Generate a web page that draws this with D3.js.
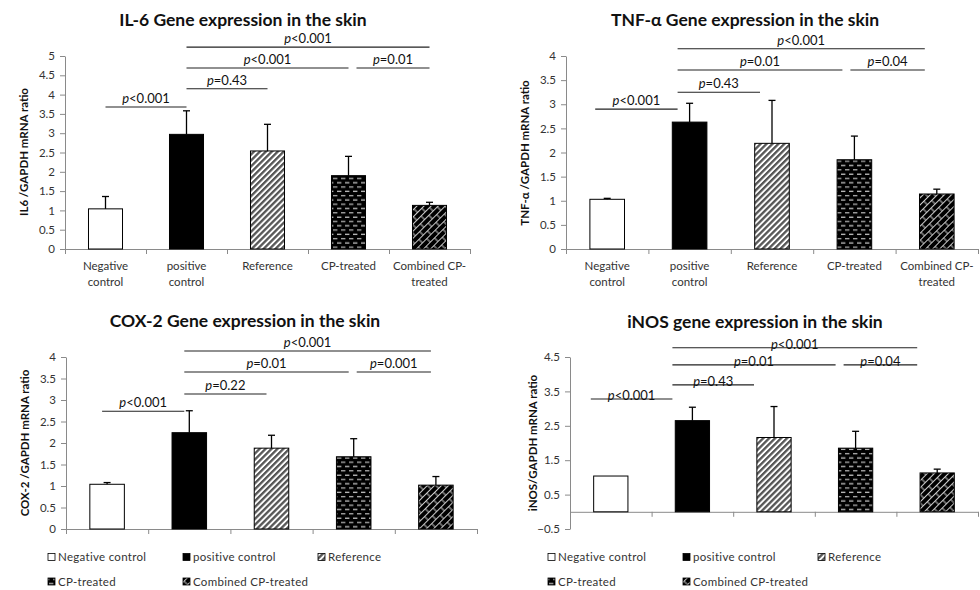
<!DOCTYPE html>
<html>
<head>
<meta charset="utf-8">
<script src="https://cdn.jsdelivr.net/npm/d3@7"></script>
<style>
  body { margin: 0; background: #fff; }
  svg text { font-family: Lato, "Open Sans", sans-serif; }
</style>
</head>
<body>
<div id="wrapper"></div>
<script>
// Data
const categories = ["Negative control", "positive control", "Reference", "CP-treated", "Combined CP-treated"];
const categoryLabelLines = [["Negative", "control"], ["positive", "control"], ["Reference"], ["CP-treated"], ["Combined CP-", "treated"]];

const il6Means = [1.04, 2.97, 2.54, 1.90, 1.13];
const il6Errors = [0.32, 0.61, 0.69, 0.50, 0.08];
const il6Ticks = [0, 0.5, 1, 1.5, 2, 2.5, 3, 3.5, 4, 4.5, 5];
const il6Comparisons = [
    { from: 0, to: 1, level: 3.68, text: "<0.001" },
    { from: 1, to: 2, level: 4.15, text: "=0.43" },
    { from: 1, to: 3, level: 4.69, text: "<0.001" },
    { from: 3, to: 4, level: 4.69, text: "=0.01" },
    { from: 1, to: 4, level: 5.23, text: "<0.001" }
];

const tnfMeans = [1.03, 2.63, 2.19, 1.85, 1.14];
const tnfErrors = [0.02, 0.39, 0.89, 0.49, 0.10];
const tnfTicks = [0, 0.5, 1, 1.5, 2, 2.5, 3, 3.5, 4];
const tnfComparisons = [
    { from: 0, to: 1, level: 2.90, text: "<0.001" },
    { from: 1, to: 2, level: 3.25, text: "=0.43" },
    { from: 1, to: 3, level: 3.71, text: "=0.01" },
    { from: 3, to: 4, level: 3.71, text: "=0.04" },
    { from: 1, to: 4, level: 4.15, text: "<0.001" }
];

const cox2Means = [1.04, 2.24, 1.88, 1.68, 1.02];
const cox2Errors = [0.04, 0.51, 0.30, 0.42, 0.20];
const cox2Ticks = [0, 0.5, 1, 1.5, 2, 2.5, 3, 3.5, 4];
const cox2Comparisons = [
    { from: 0, to: 1, level: 2.74, text: "<0.001" },
    { from: 1, to: 2, level: 3.14, text: "=0.22" },
    { from: 1, to: 3, level: 3.65, text: "=0.01" },
    { from: 3, to: 4, level: 3.65, text: "=0.001" },
    { from: 1, to: 4, level: 4.14, text: "<0.001" }
];

const inosMeans = [1.04, 2.65, 2.16, 1.85, 1.13];
const inosErrors = [0, 0.39, 0.90, 0.49, 0.11];
const inosTicks = [-0.5, 0.5, 1.5, 2.5, 3.5, 4.5];
const inosComparisons = [
    { from: 0, to: 1, level: 3.28, text: "<0.001" },
    { from: 1, to: 2, level: 3.69, text: "=0.43" },
    { from: 1, to: 3, level: 4.27, text: "=0.01" },
    { from: 3, to: 4, level: 4.27, text: "=0.04" },
    { from: 1, to: 4, level: 4.77, text: "<0.001" }
];

const fills = ["#ffffff", "#000000", "url(#pat-ref)", "url(#pat-cp)", "url(#pat-comb)"];

function drawChart() {
    const width = 980, height = 590;

    const svg = d3.select("#wrapper")
        .append("svg")
        .attr("width", width)
        .attr("height", height);

    // Patterns for the hatched bars
    const defs = svg.append("defs");

    const ref = defs.append("pattern")
        .attr("id", "pat-ref")
        .attr("patternUnits", "userSpaceOnUse")
        .attr("width", 4.2).attr("height", 4.2)
        .attr("patternTransform", "rotate(45)");
    ref.append("rect").attr("width", 4.2).attr("height", 4.2).attr("fill", "#fff");
    ref.append("rect").attr("width", 2.3).attr("height", 4.2).attr("fill", "#555");

    const cp = defs.append("pattern")
        .attr("id", "pat-cp")
        .attr("patternUnits", "userSpaceOnUse")
        .attr("width", 8).attr("height", 8.6);
    cp.append("rect").attr("width", 8).attr("height", 8.6).attr("fill", "#000");
    cp.append("rect").attr("x", 1).attr("y", 1.6).attr("width", 4.4).attr("height", 1.1).attr("fill", "#e8e8e8");
    cp.append("rect").attr("x", 5).attr("y", 5.9).attr("width", 4.4).attr("height", 1.1).attr("fill", "#d0d0d0");
    cp.append("rect").attr("x", -3).attr("y", 5.9).attr("width", 4.4).attr("height", 1.1).attr("fill", "#d0d0d0");

    const comb = defs.append("pattern")
        .attr("id", "pat-comb")
        .attr("patternUnits", "userSpaceOnUse")
        .attr("width", 12).attr("height", 10)
        .attr("patternTransform", "rotate(-45)");
    comb.append("rect").attr("width", 12).attr("height", 10).attr("fill", "#000");
    comb.append("path")
        .attr("d", "M0,0.5H12 M0,5.5H12 M1,0.5V5.5 M7,5.5V10.5")
        .attr("stroke", "#e0e0e0")
        .attr("stroke-width", 0.9)
        .attr("fill", "none");

    const panels = [
        {
            title: "IL-6 Gene expression in the skin", yTitle: "IL6 /GAPDH mRNA ratio",
            means: il6Means, errors: il6Errors, ticks: il6Ticks, domain: [0, 5], comparisons: il6Comparisons,
            left: 65, right: 470, top: 56, bottom: 249, titleX: 243, titleY: 26, yTitleX: 24, yTitleY: 152,
            showLabels: true, shift: 0, labelDy: -4
        },
        {
            title: "TNF-\u03b1  Gene expression in the skin", yTitle: "TNF-\u03b1 /GAPDH  mRNA ratio",
            means: tnfMeans, errors: tnfErrors, ticks: tnfTicks, domain: [0, 4], comparisons: tnfComparisons,
            left: 566, right: 978, top: 56, bottom: 249, titleX: 745, titleY: 26, yTitleX: 525, yTitleY: 153,
            showLabels: true, shift: -12, labelDy: -4
        },
        {
            title: "COX-2 Gene expression in the skin", yTitle: "COX-2  /GAPDH  mRNA ratio",
            means: cox2Means, errors: cox2Errors, ticks: cox2Ticks, domain: [0, 4], comparisons: cox2Comparisons,
            left: 66, right: 477, top: 357, bottom: 529, titleX: 245, titleY: 327, yTitleX: 25, yTitleY: 443,
            showLabels: false, shift: -5, labelDy: -4
        },
        {
            title: "iNOS gene expression in the skin", yTitle: "iNOS/GAPDH  mRNA ratio",
            means: inosMeans, errors: inosErrors, ticks: inosTicks, domain: [-0.5, 4.5], comparisons: inosComparisons,
            left: 570, right: 978, top: 357, bottom: 529, titleX: 755, titleY: 328, yTitleX: 533, yTitleY: 443,
            showLabels: false, shift: -20, labelDy: 1
        }
    ];

    panels.forEach(p => drawPanel(svg, p));

    // Legends
    drawLegend(svg, 48, 557);
    drawLegend(svg, 548, 557);
}

function drawPanel(svg, p) {
    const g = svg.append("g");

    const yScale = d3.scaleLinear()
        .domain(p.domain)
        .range([p.bottom, p.top]);

    const xBand = d3.scaleBand()
        .domain(d3.range(categories.length))
        .range([p.left, p.right])
        .paddingInner(0.58)
        .paddingOuter(0.29);

    const xEdge = d3.scaleLinear()
        .domain([0, categories.length])
        .range([p.left, p.right]);

    const center = i => xBand(i) + xBand.bandwidth() / 2;

    // Title
    g.append("text")
        .attr("x", p.titleX)
        .attr("y", p.titleY)
        .attr("text-anchor", "middle")
        .attr("font-weight", "bold")
        .attr("font-size", 17.5)
        .attr("fill", "#111")
        .text(p.title);

    // Y axis
    const yAxis = g.append("g")
        .attr("transform", `translate(${p.left},0)`)
        .call(d3.axisLeft(yScale)
            .tickValues(p.ticks)
            .tickSize(5)
            .tickSizeOuter(0)
            .tickPadding(5)
            .tickFormat(d3.format("")));
    yAxis.select(".domain").attr("stroke", "#8a8a8a");
    yAxis.selectAll(".tick line").attr("stroke", "#8a8a8a");
    yAxis.selectAll(".tick text")
        .attr("font-size", 11.5)
        .attr("fill", "#333")
        .style("font-family", "Lato, sans-serif");

    g.append("text")
        .attr("transform", `translate(${p.yTitleX},${p.yTitleY}) rotate(-90)`)
        .attr("text-anchor", "middle")
        .attr("dy", "0.35em")
        .attr("font-weight", "bold")
        .attr("font-size", 11.5)
        .attr("fill", "#111")
        .text(p.yTitle);

    // X axis (category boundaries)
    const baseY = yScale(Math.max(0, p.domain[0]));
    const xAxis = g.append("g")
        .attr("transform", `translate(0,${baseY})`)
        .call(d3.axisBottom(xEdge)
            .tickValues(d3.range(categories.length + 1))
            .tickSize(5)
            .tickSizeOuter(0)
            .tickFormat(""));
    xAxis.select(".domain").attr("stroke", "#8a8a8a");
    xAxis.selectAll(".tick line").attr("stroke", "#8a8a8a");

    if (p.showLabels) {
        const labels = g.selectAll(".xlabel")
            .data(categoryLabelLines)
            .enter().append("text")
            .attr("class", "xlabel")
            .attr("text-anchor", "middle")
            .attr("font-size", 11.5)
            .attr("fill", "#333");
        labels.selectAll("tspan")
            .data((d, i) => d.map(line => ({ line, i })))
            .enter().append("tspan")
            .attr("x", d => center(d.i))
            .attr("y", (d, j) => baseY + 21 + j * 16)
            .text(d => d.line);
    }

    // Bars
    g.selectAll(".bar")
        .data(p.means)
        .enter().append("rect")
        .attr("class", "bar")
        .attr("x", (d, i) => xBand(i))
        .attr("width", xBand.bandwidth())
        .attr("y", d => yScale(d))
        .attr("height", d => yScale(0) - yScale(d))
        .attr("fill", (d, i) => fills[i])
        .attr("stroke", "#000")
        .attr("stroke-width", 1);

    // Error bars (upper only)
    const errs = g.selectAll(".err")
        .data(p.means.map((m, i) => ({ m, e: p.errors[i], i })).filter(d => d.e > 0))
        .enter().append("g")
        .attr("class", "err");
    errs.append("line")
        .attr("x1", d => center(d.i)).attr("x2", d => center(d.i))
        .attr("y1", d => yScale(d.m)).attr("y2", d => yScale(d.m + d.e))
        .attr("stroke", "#000").attr("stroke-width", 1.3);
    errs.append("line")
        .attr("x1", d => center(d.i) - 3.5).attr("x2", d => center(d.i) + 3.5)
        .attr("y1", d => yScale(d.m + d.e)).attr("y2", d => yScale(d.m + d.e))
        .attr("stroke", "#000").attr("stroke-width", 1.3);

    // Significance brackets
    const comps = g.selectAll(".comp")
        .data(p.comparisons)
        .enter().append("g")
        .attr("class", "comp");

    const startX = d => {
        const shared = p.comparisons.some(o => o !== d && o.level === d.level && o.to === d.from);
        return center(d.from) + p.shift + (shared ? 8 : 0);
    };
    const endX = d => center(d.to) + p.shift;

    comps.append("line")
        .attr("x1", startX)
        .attr("x2", endX)
        .attr("y1", d => yScale(d.level))
        .attr("y2", d => yScale(d.level))
        .attr("stroke", "#222")
        .attr("stroke-width", 1.1);

    const lbl = comps.append("text")
        .attr("x", d => (startX(d) + endX(d)) / 2)
        .attr("y", d => yScale(d.level) + p.labelDy)
        .attr("text-anchor", "middle")
        .attr("font-size", 13)
        .attr("fill", "#111");
    lbl.append("tspan").attr("font-style", "italic").text("p");
    lbl.append("tspan").text(d => d.text);
}

function drawLegend(svg, x0, y0) {
    const cols = [0, 135, 270];
    const legend = svg.append("g")
        .attr("transform", `translate(${x0},${y0})`);

    const items = legend.selectAll(".legend-item")
        .data(categories)
        .enter().append("g")
        .attr("class", "legend-item")
        .attr("transform", (d, i) => `translate(${cols[i % 3]},${Math.floor(i / 3) * 24.5})`);

    items.append("rect")
        .attr("x", 0).attr("y", -3.5)
        .attr("width", 7).attr("height", 7)
        .attr("fill", (d, i) => fills[i])
        .attr("stroke", "#000")
        .attr("stroke-width", 0.8);

    items.append("text")
        .attr("x", 10)
        .attr("y", 0)
        .attr("dy", "0.35em")
        .attr("font-size", 11.5)
        .attr("letter-spacing", 0.3)
        .attr("fill", "#333")
        .text(d => d);
}

drawChart();
</script>
</body>
</html>
